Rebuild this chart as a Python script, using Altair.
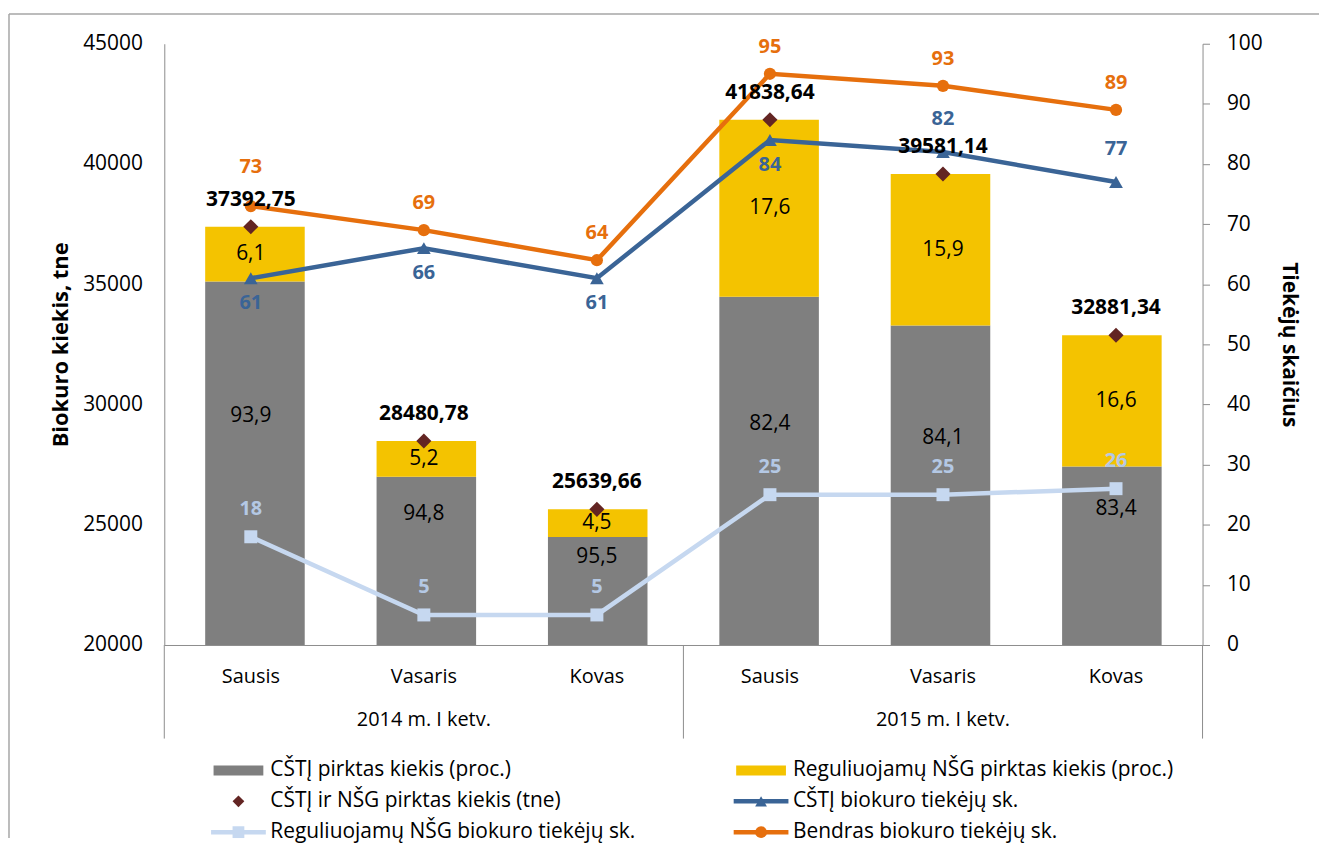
import altair as alt
import pandas as pd

# ---------------- data ----------------
months = ["Sausis", "Vasaris", "Kovas", "Sausis", "Vasaris", "Kovas"]
quarters = ["2014 m. I ketv."] * 3 + ["2015 m. I ketv."] * 3
total_tne = [37392.75, 28480.78, 25639.66, 41838.64, 39581.14, 32881.34]
cstj_pct = [93.9, 94.8, 95.5, 82.4, 84.1, 83.4]
nsg_pct = [6.1, 5.2, 4.5, 17.6, 15.9, 16.6]
cstj_suppliers = [61, 66, 61, 84, 82, 77]
nsg_suppliers = [18, 5, 5, 25, 25, 26]
total_suppliers = [73, 69, 64, 95, 93, 89]
legend_names = [
    "CŠTĮ pirktas kiekis (proc.)",
    "Reguliuojamų NŠG pirktas kiekis (proc.)",
    "CŠTĮ ir NŠG pirktas kiekis (tne)",
    "CŠTĮ biokuro tiekėjų sk.",
    "Reguliuojamų NŠG biokuro tiekėjų sk.",
    "Bendras biokuro tiekėjų sk.",
]
left_min, left_max = 20000, 45000
right_min, right_max = 0, 100

# ---------------- styles ----------------
FONT = "Open Sans"
GRAY = "#7F7F7F"
YELLOW = "#F4C300"
DIAMOND = "#632523"
BLUE = "#3A6496"
ORANGE = "#E66F0D"
LBLUE = "#C6D8F0"
LBLUE_TXT = "#B4C8E4"
AXC = "#8C8C8C"
BORDER = "#A6A6A6"
W, H = 1043, 604
UNIT = (left_max - left_min) / H  # data units per pixel on the left axis

df = pd.DataFrame({
    "i": list(range(len(months))),
    "month": months,
    "quarter": quarters,
    "total": total_tne,
    "cstj": cstj_pct,
    "nsg": nsg_pct,
    "cs": cstj_suppliers,
    "ns": nsg_suppliers,
    "ts": total_suppliers,
})

bounds = [0] + [k for k in range(1, len(quarters)) if quarters[k] != quarters[k - 1]] + [len(quarters)]
bounds_df = pd.DataFrame({"b": bounds})
leg_df = pd.DataFrame({"name": legend_names, "k": list(range(len(legend_names)))})
one = pd.DataFrame({"z": [0]})

n = len(months)
base = alt.Chart(df).transform_calculate(
    center="datum.i + 0.5",
    gray_top="datum.total * datum.cstj / 100",
)


def xq(field="center", axis=None):
    return alt.X(f"{field}:Q", scale=alt.Scale(domain=[0, n], nice=False, zero=False), axis=axis)


def yl(field, axis=None):
    return alt.Y(f"{field}:Q", scale=alt.Scale(domain=[left_min, left_max], nice=False, zero=False), axis=axis)


def yr(field, axis=None):
    return alt.Y(f"{field}:Q", scale=alt.Scale(domain=[right_min, right_max], nice=False, zero=False), axis=axis)


left_axis = alt.Axis(
    title="Biokuro kiekis, tne", values=list(range(left_min, left_max + 1, 5000)), format="d",
    grid=False, ticks=False, tickSize=0, labelPadding=22, domainColor=AXC,
    titleFontWeight="bold", titleFontSize=22, titlePadding=10,
)
right_axis = alt.Axis(
    orient="right", title="Tiekėjų skaičius", values=list(range(right_min, right_max + 1, 10)),
    grid=False, tickSize=7, labelPadding=17, domainColor=AXC, tickColor=AXC,
    titleFontWeight="bold", titleFontSize=21, titlePadding=16,
)
x_axis = alt.Axis(labels=False, ticks=False, grid=False, title=None, domainColor=AXC)

# border (decorative frame of the figure)
border_top = alt.Chart(one).mark_rule(color=BORDER, strokeWidth=1.5).encode(
    x=alt.value(-156), x2=alt.value(1160), y=alt.value(-30))
border_left = alt.Chart(one).mark_rule(color=BORDER, strokeWidth=1.5).encode(
    x=alt.value(-156), y=alt.value(-30), y2=alt.value(798))

# bars
gray_bar = base.mark_bar(color=GRAY, size=100).encode(
    x=xq(axis=x_axis), y=yl("gray_top", axis=left_axis), y2=alt.datum(left_min))
yellow_bar = base.mark_bar(color=YELLOW, size=100).encode(
    x=xq(), y=yl("total"), y2=alt.Y2("gray_top:Q"))

# category axis decorations
seps = alt.Chart(bounds_df).mark_rule(color=AXC, strokeWidth=1).encode(
    x=alt.X("b:Q", scale=alt.Scale(domain=[0, n], nice=False, zero=False), axis=None),
    y=alt.value(H), y2=alt.value(H + 94))
month_lbl = base.mark_text(font=FONT, fontSize=20, color="black", baseline="middle").encode(
    x=xq(), y=alt.value(H + 32), text="month:N")
quarter_lbl = base.transform_aggregate(c="mean(center)", groupby=["quarter"]).mark_text(
    font=FONT, fontSize=20, color="black", baseline="middle").encode(
    x=xq("c"), y=alt.value(H + 75), text="quarter:N")

# lines with markers
def line_layer(field, color):
    return base.mark_line(color=color, strokeWidth=4.5).encode(x=xq(), y=yr(field))

orange_line = base.mark_line(color=ORANGE, strokeWidth=4.5).encode(x=xq(), y=yr("ts", axis=right_axis))
blue_line = line_layer("cs", BLUE)
lblue_line = line_layer("ns", LBLUE)
orange_pt = base.mark_point(shape="circle", filled=True, size=150, color=ORANGE, opacity=1).encode(x=xq(), y=yr("ts"))
blue_pt = base.mark_point(shape="triangle-up", filled=True, size=190, color=BLUE, opacity=1).encode(x=xq(), y=yr("cs"))
lblue_pt = base.mark_point(shape="square", filled=True, size=170, color=LBLUE, opacity=1).encode(x=xq(), y=yr("ns"))
diamond_pt = base.mark_point(shape="diamond", filled=True, size=230, color=DIAMOND, opacity=1).encode(x=xq(), y=yl("total"))

# labels
gray_lbl = base.transform_calculate(
    gm=f"min(({left_min} + datum.gray_top) / 2 + 47 * {UNIT}, datum.gray_top - 20 * {UNIT})",
    gl="replace(format(datum.cstj, '.1f'), '.', ',')",
).mark_text(font=FONT, fontSize=21, color="black", baseline="middle").encode(
    x=xq(), y=yl("gm"), text="gl:N")
yellow_lbl = base.transform_calculate(
    ym="(datum.total + datum.gray_top) / 2",
    yt="replace(format(datum.nsg, '.1f'), '.', ',')",
).mark_text(font=FONT, fontSize=21, color="black", baseline="middle").encode(
    x=xq(), y=yl("ym"), text="yt:N")
total_lbl = base.transform_calculate(
    tl="replace(format(datum.total, '.2f'), '.', ',')",
).mark_text(font=FONT, fontSize=21, fontWeight="bold", color="black", baseline="middle", dy=-27).encode(
    x=xq(), y=yl("total"), text="tl:N")
orange_lbl = base.transform_filter("datum.i > 0").mark_text(
    font=FONT, fontSize=20, fontWeight="bold", color=ORANGE, baseline="middle", dy=-27).encode(
    x=xq(), y=yr("ts"), text="ts:Q")
orange_lbl_first = base.transform_filter("datum.i == 0").mark_text(
    font=FONT, fontSize=20, fontWeight="bold", color=ORANGE, baseline="middle", dy=-39).encode(
    x=xq(), y=yr("ts"), text="ts:Q")
lblue_lbl = base.mark_text(font=FONT, fontSize=20, fontWeight="bold", color=LBLUE_TXT, baseline="middle", dy=-28).encode(
    x=xq(), y=yr("ns"), text="ns:Q")
blue_lbl_below = base.transform_filter("datum.i < 4").mark_text(
    font=FONT, fontSize=20, fontWeight="bold", color=BLUE, baseline="middle", dy=25).encode(
    x=xq(), y=yr("cs"), text="cs:Q")
blue_lbl_above = base.transform_filter("datum.i >= 4").mark_text(
    font=FONT, fontSize=20, fontWeight="bold", color=BLUE, baseline="middle", dy=-33).encode(
    x=xq(), y=yr("cs"), text="cs:Q")

# custom legend (2 columns x 3 rows)
leg = alt.Chart(leg_df).transform_calculate(
    row="floor(datum.k / 2)", col="datum.k % 2")
lx = alt.X("col:Q", scale=alt.Scale(domain=[0, 1], range=[74.5, 599.5]), axis=None)
ly = alt.Y("row:Q", scale=alt.Scale(domain=[0, 2], range=[730, 792]), axis=None)
lcolor = alt.Color("name:N", scale=alt.Scale(domain=legend_names,
                                              range=[GRAY, YELLOW, DIAMOND, BLUE, LBLUE, ORANGE]), legend=None)
RECT = "M-1,-0.2L1,-0.2L1,0.2L-1,0.2Z"
leg_rect = leg.transform_filter("datum.k < 2").mark_point(
    shape=RECT, filled=True, size=2500, opacity=1, strokeWidth=0).encode(x=lx, y=ly, color=lcolor)
leg_diam = leg.transform_filter("datum.k == 2").mark_point(
    shape="diamond", filled=True, size=140, opacity=1).encode(x=lx, y=ly, color=lcolor)
leg_line = leg.transform_filter("datum.k >= 3").mark_point(
    shape="M-1,0L1,0", filled=False, size=3025, opacity=1, strokeWidth=4.5).encode(x=lx, y=ly, color=lcolor)
leg_mark = leg.transform_filter("datum.k >= 3").mark_point(
    filled=True, size=140, opacity=1).encode(
    x=lx, y=ly, color=lcolor,
    shape=alt.Shape("name:N", scale=alt.Scale(domain=legend_names[3:],
                                              range=["triangle-up", "square", "circle"]), legend=None))
leg_text = leg.mark_text(font=FONT, fontSize=21, color="black", align="left", baseline="middle", dx=32).encode(
    x=lx, y=ly, text="name:N")

chart = alt.layer(
    border_top, border_left,
    gray_bar, yellow_bar, seps, month_lbl, quarter_lbl,
    orange_line, blue_line, lblue_line,
    diamond_pt, orange_pt, blue_pt, lblue_pt,
    gray_lbl, yellow_lbl, total_lbl, orange_lbl, orange_lbl_first, lblue_lbl, blue_lbl_below, blue_lbl_above,
    leg_rect, leg_diam, leg_line, leg_mark, leg_text,
).resolve_scale(
    x="independent", y="independent"
).properties(
    width=W, height=H,
    padding={"left": 0, "top": 3, "right": 0, "bottom": 0},
).configure_view(
    stroke=None
).configure_axis(
    labelFont=FONT, titleFont=FONT, labelFontSize=21, labelColor="black", titleColor="black",
)

chart.save("out.html", embed_options={"renderer": "svg", "actions": False})
